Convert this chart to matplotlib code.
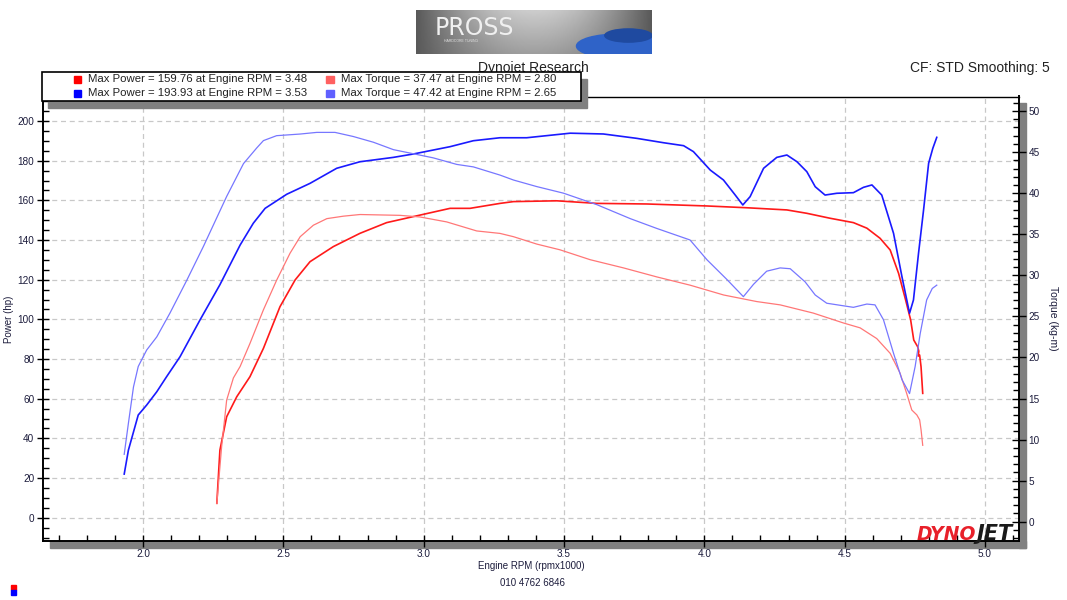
import numpy as np
import matplotlib
matplotlib.use("Agg")
import matplotlib.pyplot as plt
from matplotlib.patches import Rectangle, Ellipse
from matplotlib.ticker import MultipleLocator

plt.rcParams['font.family'] = ['Liberation Sans', 'DejaVu Sans']

# run 1 (red) - power in hp, torque in kg-m, rpm x1000
rpm_p1 = [2.263, 2.274, 2.298, 2.334, 2.381, 2.429, 2.488, 2.542, 2.595, 2.678, 2.773, 2.868,
          2.987, 3.094, 3.165, 3.272, 3.320, 3.474, 3.617, 3.795, 4.009, 4.151, 4.294, 4.365,
          4.448, 4.531, 4.579, 4.626, 4.662, 4.692, 4.717, 4.735, 4.746, 4.760, 4.764, 4.762,
          4.767, 4.772, 4.778]
power_1 = [7.3, 34.1, 50.9, 61.0, 71.1, 85.4, 106.4, 119.9, 129.1, 136.7, 143.4, 148.8,
           152.6, 156.0, 156.0, 158.5, 159.4, 159.8, 158.5, 158.2, 157.2, 156.3, 155.2, 153.5,
           151.0, 148.8, 146.0, 140.9, 135.0, 123.2, 109.8, 99.7, 89.6, 86.2, 84.0, 81.5,
           82.0, 76.1, 62.7]

rpm_t1 = [2.263, 2.280, 2.298, 2.322, 2.346, 2.381, 2.429, 2.476, 2.524, 2.560, 2.607, 2.655,
          2.714, 2.773, 2.916, 2.987, 3.082, 3.189, 3.272, 3.320, 3.403, 3.486, 3.593, 3.712,
          3.831, 3.949, 4.069, 4.187, 4.270, 4.388, 4.495, 4.555, 4.614, 4.662, 4.697, 4.721,
          4.739, 4.757, 4.767, 4.772, 4.778]
torque_1 = [2.2, 9.1, 14.8, 17.5, 18.9, 21.7, 25.8, 29.4, 32.7, 34.7, 36.1, 36.9,
            37.2, 37.4, 37.3, 37.1, 36.5, 35.4, 35.1, 34.7, 33.8, 33.1, 31.9, 30.9,
            29.8, 28.8, 27.6, 26.8, 26.4, 25.4, 24.2, 23.6, 22.3, 20.5, 18.1, 15.6,
            13.6, 13.0, 12.4, 11.2, 9.3]

# run 2 (blue)
rpm_p2 = [1.933, 1.948, 1.983, 2.013, 2.049, 2.084, 2.132, 2.203, 2.274, 2.346, 2.393, 2.435,
          2.512, 2.595, 2.690, 2.773, 2.892, 2.963, 3.094, 3.177, 3.272, 3.367, 3.522, 3.640,
          3.759, 3.854, 3.926, 3.961, 4.021, 4.068, 4.110, 4.137, 4.163, 4.211, 4.258, 4.294,
          4.330, 4.365, 4.395, 4.430, 4.472, 4.531, 4.567, 4.597, 4.632, 4.674, 4.704, 4.731,
          4.745, 4.763, 4.781, 4.799, 4.814, 4.828]
power_2 = [22.0, 34.1, 51.8, 56.8, 63.5, 71.1, 81.2, 99.7, 117.5, 137.5, 148.5, 156.0,
           163.1, 168.6, 176.2, 179.5, 181.7, 183.4, 187.1, 190.1, 191.6, 191.6, 193.9, 193.5,
           191.3, 189.1, 187.6, 184.6, 175.3, 170.3, 162.7, 157.7, 161.9, 176.2, 181.7, 182.9,
           179.5, 174.5, 166.9, 162.7, 163.6, 163.9, 166.6, 167.8, 162.7, 143.4, 121.5, 103.1,
           109.8, 133.3, 155.2, 178.7, 186.3, 191.8]

rpm_t2 = [1.933, 1.948, 1.966, 1.983, 2.013, 2.049, 2.096, 2.156, 2.215, 2.298, 2.358, 2.405,
          2.429, 2.476, 2.560, 2.619, 2.684, 2.749, 2.821, 2.892, 2.963, 3.034, 3.118, 3.177,
          3.272, 3.320, 3.403, 3.498, 3.617, 3.736, 3.831, 3.949, 4.009, 4.080, 4.139, 4.175,
          4.222, 4.270, 4.306, 4.359, 4.395, 4.436, 4.531, 4.579, 4.608, 4.638, 4.674, 4.704,
          4.731, 4.751, 4.769, 4.792, 4.812, 4.828]
torque_2 = [8.2, 12.0, 16.4, 18.9, 20.9, 22.5, 25.4, 29.4, 33.5, 39.6, 43.6, 45.5,
            46.4, 47.0, 47.2, 47.4, 47.4, 46.9, 46.2, 45.3, 44.8, 44.3, 43.5, 43.2,
            42.2, 41.6, 40.8, 40.0, 38.6, 36.9, 35.7, 34.3, 31.9, 29.5, 27.4, 28.9,
            30.5, 30.9, 30.8, 29.2, 27.6, 26.6, 26.1, 26.5, 26.4, 24.6, 20.5, 17.3,
            15.6, 18.9, 22.9, 27.0, 28.4, 28.8]

legend_labels = ["Max Power = 159.76 at Engine RPM = 3.48",
                 "Max Torque = 37.47 at Engine RPM = 2.80",
                 "Max Power = 193.93 at Engine RPM = 3.53",
                 "Max Torque = 47.42 at Engine RPM = 2.65"]

RED = '#ff1a1a'
LRED = '#ff7777'
BLUE = '#1a1aff'
LBLUE = '#7777ff'
legend_colors = ['#ff0000', '#ff6060', '#0000ff', '#6060ff']
TXT = '#1c1c3c'

W, H = 1067, 600


def fx(x):
    return x / W


def fy(y):
    return 1 - y / H


fig = plt.figure(figsize=(W / 100, H / 100), dpi=100)

ax = fig.add_axes([fx(42.7), fy(541), (1019 - 42.7) / W, (541 - 96.5) / H])
ax2 = ax.twinx()

ax.set_xlim(1.6426, 5.121)
ax.set_ylim(-11.75, 212.4)
ax2.set_ylim(-2.35, 51.77)

ax.set_xticks(np.arange(2.0, 5.01, 0.5))
ax.xaxis.set_minor_locator(MultipleLocator(0.1))
ax.set_yticks(range(0, 201, 20))
ax.yaxis.set_minor_locator(MultipleLocator(5))
ax2.set_yticks(range(0, 51, 5))
ax2.yaxis.set_minor_locator(MultipleLocator(1))

ax.set_axisbelow(True)
ax.grid(which='major', color='#c8c8c8', linestyle=(0, (4, 3)), linewidth=0.9)

ax.plot(rpm_p1, power_1, color=RED, lw=1.2)
ax.plot(rpm_p2, power_2, color=BLUE, lw=1.2)
ax2.plot(rpm_t1, torque_1, color=LRED, lw=0.9)
ax2.plot(rpm_t2, torque_2, color=LBLUE, lw=0.9)

ax.tick_params(which='major', direction='inout', length=9, width=1, labelsize=7.2,
               labelcolor=TXT, pad=1.5, top=False, right=False)
ax.tick_params(which='minor', direction='in', length=4.5, width=1, top=False, right=False)
ax2.tick_params(which='major', direction='inout', length=10, width=1, labelsize=7.2,
                labelcolor=TXT, pad=2, top=False, bottom=False)
ax2.tick_params(which='minor', direction='in', length=4.5, width=1, top=False, bottom=False)

for name, sp in ax.spines.items():
    sp.set_color('black')
    sp.set_linewidth(1.0 if name == 'top' else 1.4)
ax.spines['right'].set_visible(False)
for name in ['left', 'top', 'bottom']:
    ax2.spines[name].set_visible(False)
ax2.spines['right'].set_linewidth(1.4)

# frame shadow
fig.add_artist(Rectangle((fx(1019), fy(548)), 7 / W, (548 - 103) / H,
                         transform=fig.transFigure, color='#808080', zorder=-1))
fig.add_artist(Rectangle((fx(50), fy(548)), (1026 - 50) / W, 7 / H,
                         transform=fig.transFigure, color='#808080', zorder=-1))

# axis labels
fig.text(fx(9), fy(319), 'Power (hp)', rotation=90, ha='center', va='center',
         fontsize=7, color=TXT)
fig.text(fx(1053), fy(318), 'Torque (kg-m)', rotation=270, ha='center', va='center',
         fontsize=7.5, color=TXT)
fig.text(fx(531), fy(566), 'Engine RPM (rpmx1000)', ha='center', va='center',
         fontsize=7, color=TXT)
fig.text(fx(533), fy(583), '010 4762 6846', ha='center', va='center',
         fontsize=7, color=TXT)

# headings
fig.text(fx(533), fy(68), 'Dynojet Research', ha='center', va='center',
         fontsize=10, color='#222222', zorder=1)
fig.text(fx(1050), fy(68), 'CF: STD Smoothing: 5', ha='right', va='center',
         fontsize=10, color='#222222')

# legend box
fig.add_artist(Rectangle((fx(48), fy(108)), 539 / W, 29 / H,
                         transform=fig.transFigure, color='#808080', zorder=4))
fig.add_artist(Rectangle((fx(42), fy(101)), 539 / W, 29 / H, transform=fig.transFigure,
                         facecolor='white', edgecolor='black', lw=1.2, zorder=5))
leg_pos = [(73.5, 79.3), (326.4, 79.3), (73.5, 93.3), (326.4, 93.3)]
for (lx, ly), lab, col in zip(leg_pos, legend_labels, legend_colors):
    fig.add_artist(Rectangle((fx(lx), fy(ly + 3.5)), 7.5 / W, 7 / H,
                             transform=fig.transFigure, color=col, zorder=6))
    fig.text(fx(lx + 14.5), fy(ly), lab, ha='left', va='center', fontsize=8.2,
             color='#222222', zorder=6)

# PROSS banner
lax = fig.add_axes([fx(416), fy(54), 236 / W, 44 / H])
gx = np.linspace(0, 1, 200)
gy = np.linspace(0, 1, 40)
GX, GY = np.meshgrid(gx, gy)
banner = 0.35 + 0.45 * np.sin(np.pi * GX) * (0.6 + 0.4 * GY)
lax.imshow(banner, cmap='gray', vmin=0, vmax=1, extent=[0, 1, 0, 1], aspect='auto',
           origin='lower')
lax.add_patch(Ellipse((0.86, 0.18), 0.36, 0.55, color='#2f63c8'))
lax.add_patch(Ellipse((0.9, 0.42), 0.2, 0.3, color='#1f4aa0'))
lax.text(0.08, 0.58, 'PROSS', fontsize=17, color='#f0f0f0', ha='left', va='center',
         family='DejaVu Sans')
lax.text(0.12, 0.3, 'HARDCORE TUNING', fontsize=2.5, color='#e0e0e0', ha='left',
         va='center')
lax.set_xlim(0, 1)
lax.set_ylim(0, 1)
lax.axis('off')

# DYNOJET mark
fig.text(fx(976), fy(534), 'DYNO', ha='right', va='center', fontsize=13.5,
         fontweight='heavy', fontstyle='italic', color='#e8202a', family='DejaVu Sans', zorder=3)
fig.text(fx(976), fy(534), 'JET', ha='left', va='center', fontsize=15,
         fontweight='heavy', fontstyle='italic', color='#1a1a1a', family='DejaVu Sans', zorder=3)

# run colour marks bottom left
fig.add_artist(Rectangle((fx(11), fy(589.5)), 5 / W, 5 / H, transform=fig.transFigure,
                         color='#ff0000'))
fig.add_artist(Rectangle((fx(11), fy(595)), 5 / W, 5 / H, transform=fig.transFigure,
                         color='#0000ff'))

fig.savefig('out.png', dpi=100)
